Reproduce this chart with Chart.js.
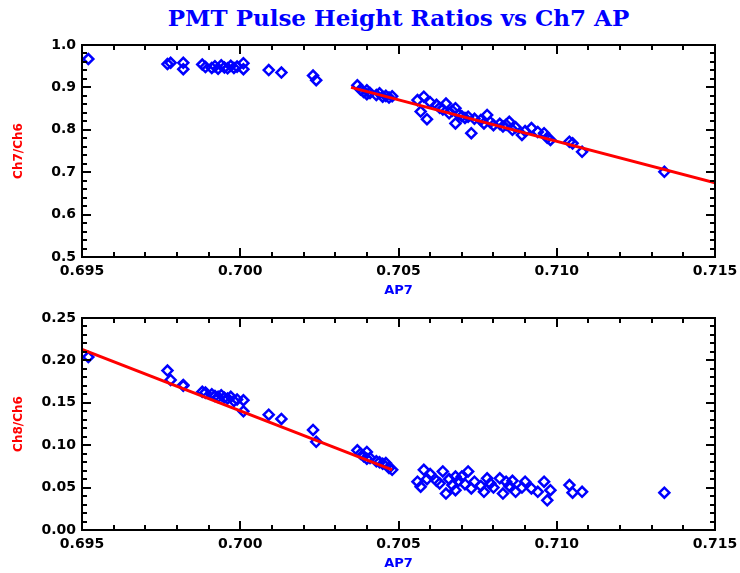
<!DOCTYPE html>
<html>
<head>
<meta charset="utf-8">
<script src="https://cdn.jsdelivr.net/npm/chart.js@4"></script>
<style>
  body { margin: 0; background: #fff; overflow: hidden; }
  #wrap { position: relative; width: 740px; height: 573px; }
  #title {
    position: absolute; left: 82px; top: 4px; width: 633px;
    text-align: center; color: #0000ff;
    font: bold 23px "DejaVu Serif", serif;
  }
  canvas { position: absolute; left: 0; }
</style>
</head>
<body>
<div id="wrap">
  <div id="title">PMT Pulse Height Ratios vs Ch7 AP</div>
  <canvas id="topChart" width="740" height="300" style="top:0"></canvas>
  <canvas id="botChart" width="740" height="273" style="top:300px"></canvas>
</div>
<script>
// AP7 per event, with the two pulse height ratios
const ap7 = [
  0.6952, 0.6977, 0.6978, 0.6982, 0.6982, 0.6988, 0.6989, 0.6991, 0.6992, 0.6993,
  0.6994, 0.6995, 0.6996, 0.6997, 0.6998, 0.6999, 0.7001, 0.7001, 0.7009, 0.7013,
  0.7023, 0.7024,
  0.7037, 0.7038, 0.7039, 0.7040, 0.7040, 0.7041, 0.7043, 0.7044, 0.7045, 0.7046,
  0.7047, 0.7048,
  0.7056, 0.7057, 0.7058, 0.7059, 0.7060, 0.7062, 0.7063, 0.7064, 0.7065, 0.7066,
  0.7067, 0.7068, 0.7068, 0.7069, 0.7070, 0.7071, 0.7072, 0.7073, 0.7074, 0.7076,
  0.7078, 0.7077, 0.7079, 0.7080, 0.7082, 0.7083, 0.7084, 0.7085, 0.7086, 0.7087,
  0.7089, 0.7090, 0.7092, 0.7094, 0.7096, 0.7098, 0.7097, 0.7104, 0.7105, 0.7108,
  0.7134
];
const ch7ch6 = [
  0.967, 0.955, 0.958, 0.958, 0.943, 0.954, 0.948, 0.946, 0.950, 0.944,
  0.952, 0.947, 0.945, 0.951, 0.946, 0.949, 0.957, 0.943, 0.941, 0.935,
  0.928, 0.917,
  0.905, 0.895, 0.889, 0.884, 0.893, 0.887, 0.882, 0.886, 0.878, 0.880,
  0.876, 0.879,
  0.870, 0.843, 0.878, 0.825, 0.865, 0.859, 0.852, 0.848, 0.862, 0.839,
  0.845, 0.851, 0.815, 0.836, 0.832, 0.828, 0.831, 0.792, 0.826, 0.823,
  0.835, 0.815, 0.818, 0.811, 0.814, 0.808, 0.812, 0.819, 0.800, 0.806,
  0.788, 0.797, 0.804, 0.795, 0.792, 0.776, 0.781, 0.772, 0.768, 0.748,
  0.701
];
const ch8ch6 = [
  0.204, 0.188, 0.177, 0.171, 0.170, 0.163, 0.162, 0.160, 0.158, 0.157,
  0.159, 0.156, 0.155, 0.157, 0.152, 0.154, 0.153, 0.140, 0.136, 0.131,
  0.118, 0.104,
  0.094, 0.090, 0.087, 0.084, 0.092, 0.085, 0.081, 0.080, 0.078, 0.079,
  0.073, 0.071,
  0.057, 0.051, 0.071, 0.060, 0.066, 0.058, 0.055, 0.069, 0.043, 0.060,
  0.053, 0.063, 0.047, 0.058, 0.063, 0.054, 0.069, 0.049, 0.057, 0.052,
  0.061, 0.045, 0.055, 0.050, 0.061, 0.043, 0.057, 0.052, 0.058, 0.045,
  0.050, 0.057, 0.049, 0.045, 0.057, 0.047, 0.035, 0.053, 0.044, 0.045,
  0.044
];

// linear fits (end points)
const fitTopX = [0.7035, 0.715];
const fitTopY = [0.900, 0.675];
const fitBotX = [0.695, 0.7048];
const fitBotY = [0.213, 0.071];

// tick labels
const xTicks = [0.695, 0.700, 0.705, 0.710, 0.715];
const yTicksTop = [0.5, 0.6, 0.7, 0.8, 0.9, 1.0];
const yTicksBot = [0.00, 0.05, 0.10, 0.15, 0.20, 0.25];

const BLUE = '#0000ff';
const RED = '#ff0000';
const tickFont = { family: "'DejaVu Sans', sans-serif", size: 14, weight: 'bold' };

// IDL-style box: frame plus inward major/minor ticks on all four sides
const makeBox = (xMinor, yMinor) => ({
    id: 'box',
    afterDraw(chart) {
        const { ctx, chartArea: a, scales } = chart;
        ctx.save();
        ctx.strokeStyle = '#000';
        ctx.lineWidth = 2;
        ctx.strokeRect(a.left, a.top, a.right - a.left, a.bottom - a.top);
        const drawTicks = (scale, step, horiz) => {
            const n = Math.round((scale.max - scale.min) / step);
            for (let i = 0; i <= n; i++) {
                const v = scale.min + i * step;
                const len = (i % 5 === 0) ? 9 : 5;
                const p = Math.round(scale.getPixelForValue(v));
                ctx.beginPath();
                if (horiz) {
                    ctx.moveTo(p, a.bottom); ctx.lineTo(p, a.bottom - len);
                    ctx.moveTo(p, a.top); ctx.lineTo(p, a.top + len);
                } else {
                    ctx.moveTo(a.left, p); ctx.lineTo(a.left + len, p);
                    ctx.moveTo(a.right, p); ctx.lineTo(a.right - len, p);
                }
                ctx.stroke();
            }
        };
        drawTicks(scales.x, xMinor, true);
        drawTicks(scales.y, yMinor, false);
        ctx.restore();
    }
});

const makePanel = (id, yVals, fitX, fitY, yMin, yMax, yTicks, yDigits, yMinor, yTitle, padTop, xAxisH) => {
    const ctx = document.getElementById(id).getContext('2d');
    new Chart(ctx, {
        type: 'scatter',
        data: {
            datasets: [{
                type: 'line',
                data: fitX.map((x, i) => ({ x: x, y: fitY[i] })),
                borderColor: RED,
                borderWidth: 3,
                pointRadius: 0,
                fill: false
            }, {
                data: ap7.map((x, i) => ({ x: x, y: yVals[i] })),
                pointStyle: 'rectRot',
                pointRadius: 5,
                borderColor: BLUE,
                borderWidth: 2.5,
                backgroundColor: 'rgba(0,0,0,0)'
            }]
        },
        options: {
            responsive: false,
            animation: false,
            layout: { padding: { top: padTop, right: 25, left: 0, bottom: 0 } },
            plugins: {
                legend: { display: false },
                tooltip: { enabled: false }
            },
            scales: {
                x: {
                    type: 'linear',
                    min: 0.695,
                    max: 0.715,
                    afterBuildTicks: s => { s.ticks = xTicks.map(v => ({ value: v })); },
                    afterFit: s => { s.height = xAxisH; s.paddingLeft = 0; s.paddingRight = 0; },
                    grid: { display: false, drawTicks: false },
                    border: { display: false },
                    ticks: {
                        autoSkip: false,
                        maxRotation: 0,
                        color: '#000',
                        font: tickFont,
                        padding: 6,
                        callback: v => v.toFixed(3)
                    },
                    title: {
                        display: true,
                        text: 'AP7',
                        color: BLUE,
                        font: { family: "'DejaVu Sans', sans-serif", size: 13, weight: 'bold' },
                        padding: { top: 0, bottom: 2 }
                    }
                },
                y: {
                    type: 'linear',
                    min: yMin,
                    max: yMax,
                    afterBuildTicks: s => { s.ticks = yTicks.map(v => ({ value: v })); },
                    afterFit: s => { s.width = 82; },
                    grid: { display: false, drawTicks: false },
                    border: { display: false },
                    ticks: {
                        autoSkip: false,
                        color: '#000',
                        font: tickFont,
                        padding: 6,
                        callback: v => v.toFixed(yDigits)
                    },
                    title: {
                        display: true,
                        text: yTitle,
                        color: RED,
                        font: { family: "'DejaVu Sans', sans-serif", size: 12, weight: 'bold' },
                        padding: { top: 12, bottom: 0 }
                    }
                }
            }
        },
        plugins: [makeBox(0.001, yMinor)]
    });
};

makePanel('topChart', ch7ch6, fitTopX, fitTopY, 0.5, 1.0, yTicksTop, 1, 0.02, 'Ch7/Ch6', 45, 43);
makePanel('botChart', ch8ch6, fitBotX, fitBotY, 0.0, 0.25, yTicksBot, 2, 0.01, 'Ch8/Ch6', 18, 43);
</script>
</body>
</html>
